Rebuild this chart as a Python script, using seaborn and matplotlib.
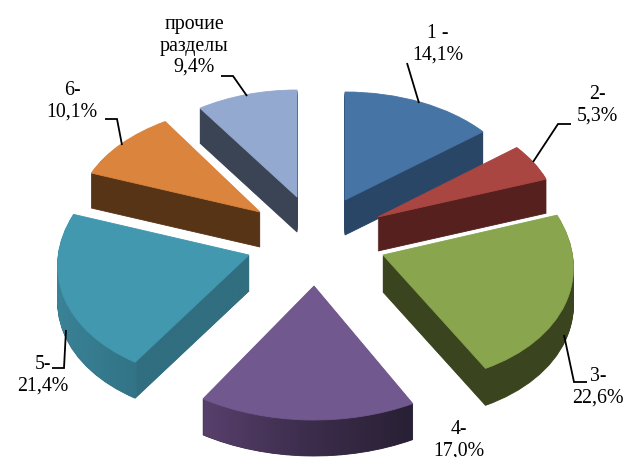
import numpy as np
import matplotlib
matplotlib.use('Agg')
import matplotlib.pyplot as plt
import seaborn as sns
from matplotlib.path import Path
from matplotlib.transforms import Affine2D

# Chart data
sections = ['1', '2', '3', '4', '5', '6', 'прочие разделы']
shares = [14.1, 5.3, 22.6, 17.0, 21.4, 10.1, 9.4]
label_texts = ['1 -\n14,1%', '2-\n5,3%', '3-\n22,6%', '4-\n17,0%', '5-\n21,4%', '6-\n10,1%', 'прочие\nразделы\n9,4%']

# Colours
top_colors = ['#4674a5', '#aa4641', '#89a54e', '#71588f', '#4198af', '#db843d', '#93a9cf']
side_colors = ['#2a4667', '#55201e', '#3a441e', '#3a2d4a', '#306e80', '#583416', '#3a4455']

# Layout in pixels: apex x, apex y, a, b, c, d (ellipse matrix, gives the perspective), depth, draw order
slice_geom = [
    (345, 200, 178, 0, 0, 108, 35, 1),
    (378, 217, 179, 0, 0, 110, 34, 3),
    (383, 255, 190, -13, -4, 127, 37, 5),
    (314, 286, 206, 0, 0, 134, 36, 6),
    (249, 255, 191, 13, 2, 126, 36, 4),
    (260, 212, 182, 8, -3, 107, 35, 2),
    (297, 197, 174, 0, 0, 107, 35, 0),
]
label_pos = [(438, 44), (597, 105), (598, 387), (459, 440), (43, 375), (72, 101), (194, 46)]
leaders = [
    [(407, 63), (419, 103)],
    [(571, 124), (558, 124), (533, 162)],
    [(587, 382), (574, 382), (564, 335)],
    None,
    [(52, 368), (64, 368), (66, 330)],
    [(105, 119), (117, 119), (122, 145)],
    [(221, 76), (233, 76), (247, 96)],
]

sns.set_theme(style='white')
plt.rcParams['font.family'] = ['Liberation Serif', 'DejaVu Sans']

fig = plt.figure(figsize=(6.27, 4.57), dpi=100)
ax = fig.add_axes([0, 0, 1, 1])


def slice_tr(g, shift):
    return Affine2D(matrix=np.array([[g[2], g[3], g[0]], [-g[4], -g[5], g[1] + shift], [0, 0, 1.0]]))


def place(wedges, shift, zextra, lw):
    for w, g in zip(wedges, slice_geom):
        w.set_transform(slice_tr(g, shift) + ax.transData)
        w.set_zorder(g[7] * 10 + zextra)
        # edge in the fill colour, otherwise the stacked wedges leave light seams
        w.set_edgecolor(w.get_facecolor())
        w.set_linewidth(lw)


# Extruded sides, one pie per pixel of depth (starts below the top face)
side_paths = {i: [] for i in range(len(shares))}
for d in range(1, 38):
    wedges, _ = ax.pie(shares, colors=side_colors, startangle=90, counterclock=False)
    for i, (w, g) in enumerate(zip(wedges, slice_geom)):
        if d > g[6]:
            w.set_visible(False)
            continue
        side_paths[i].append(w.get_path().transformed(slice_tr(g, d)))
    place(wedges, d, 0, 0.6)

# Top faces
tops, _ = ax.pie(shares, colors=top_colors, startangle=90, counterclock=False)
place(tops, 0, 2, 0.6)

ax.set_aspect('auto')
ax.axis('off')


# Rim shading for the two front slices
def shade(idx, xs, cols, y0, y1):
    gx = np.arange(xs[0], xs[-1] + 1)
    cols = np.array(cols) / 255
    rgb = np.stack([np.interp(gx, xs, cols[:, k]) for k in range(3)], axis=-1)[None, :, :]
    im = ax.imshow(rgb, extent=(xs[0], xs[-1], y1, y0), aspect='auto',
                   zorder=slice_geom[idx][7] * 10 + 1)
    im.set_clip_path(Path.make_compound_path(*side_paths[idx]), ax.transData)


shade(3, [203, 300, 413], [(88, 64, 108), (62, 46, 78), (40, 32, 52)], 380, 457)
shade(4, [57, 136, 137, 249], [(58, 130, 150), (50, 115, 135), (48, 110, 128), (48, 110, 128)], 210, 405)
ax.set_xlim(0, 627)
ax.set_ylim(457, 0)

for txt, pos in zip(label_texts, label_pos):
    ax.text(pos[0], pos[1], txt, ha='center', va='center', fontsize=14.3,
            color='black', linespacing=1.17, zorder=100)

for pts in leaders:
    if pts is None:
        continue
    ax.plot([p[0] for p in pts], [p[1] for p in pts], color='black', lw=1.3, zorder=90,
            solid_capstyle='butt', solid_joinstyle='miter')

fig.savefig('out.png', dpi=100, facecolor='white')
